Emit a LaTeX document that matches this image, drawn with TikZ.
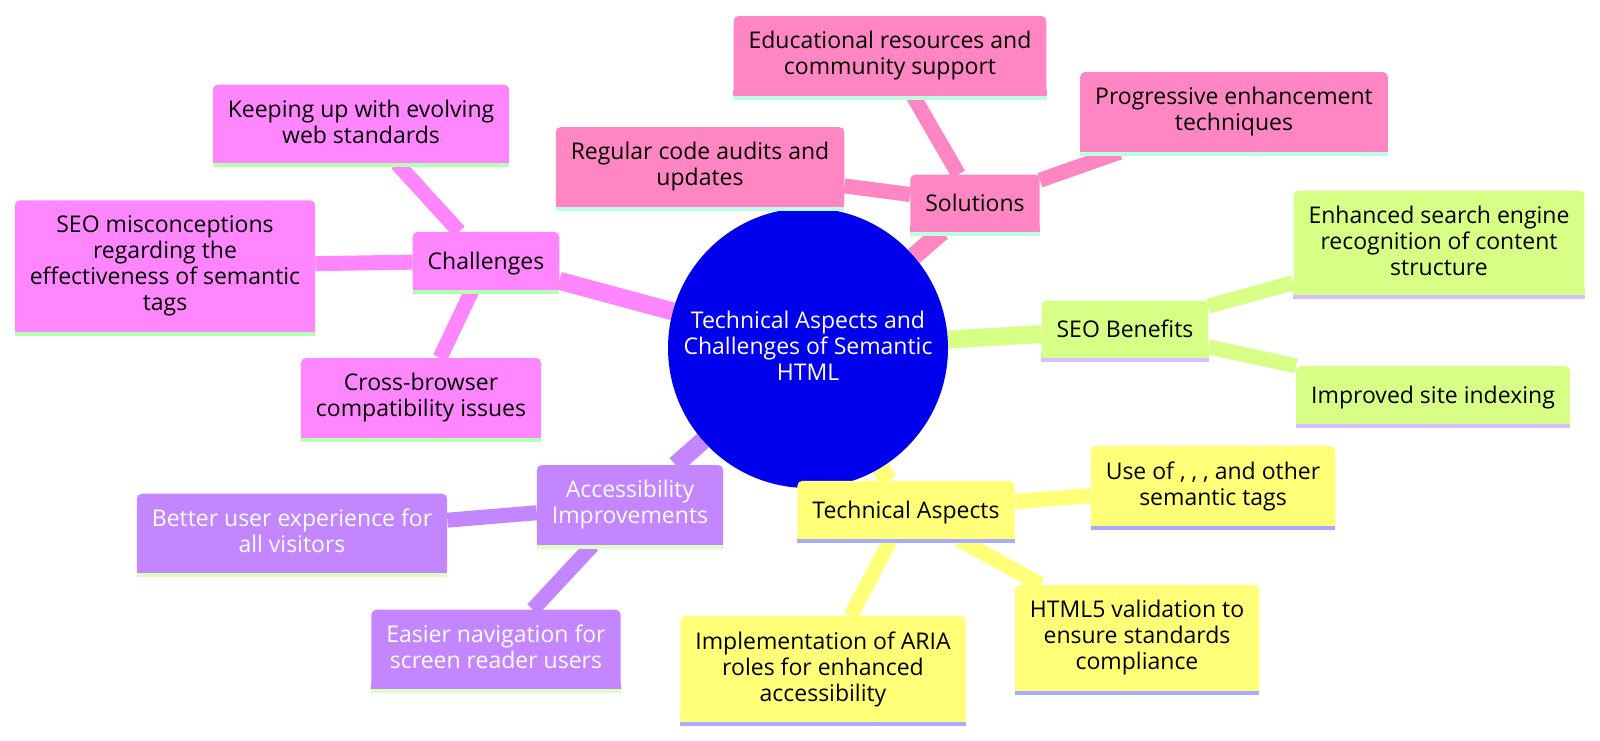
\documentclass[tikz,border=0pt]{standalone}
\usepackage{fontspec}
\setmainfont{Open Sans}
\usetikzlibrary{backgrounds}

\definecolor{rootblue}{HTML}{0000EC}
\definecolor{secyellow}{HTML}{FFFF78}
\definecolor{secgreen}{HTML}{D7FF86}
\definecolor{secpurple}{HTML}{C386FF}
\definecolor{secmagenta}{HTML}{FF86FF}
\definecolor{secpink}{HTML}{FF86C3}
\definecolor{lineyellow}{HTML}{AAAAFF}
\definecolor{linegreen}{HTML}{D5BFFF}
\definecolor{linepurple}{HTML}{DAFFBF}
\definecolor{linemagenta}{HTML}{B3FFB3}
\definecolor{linepink}{HTML}{BBFFE2}

\newcommand{\linestrut}{\rule[-4.1pt]{0pt}{26pt}}

\begin{document}
\begin{tikzpicture}[x=1pt, y=-1pt,
  every node/.style={font=\fontsize{23}{26}\selectfont, align=center,
    execute at begin node=\linestrut, execute at end node=\linestrut},
  idea/.style 2 args={rectangle, fill=#1, rounded corners=5pt, inner xsep=15pt, inner ysep=15.5pt,
    append after command={([yshift=3pt]\tikzlastnode.south west) edge[draw=#1, line width=6pt, sharp corners] ([yshift=3pt]\tikzlastnode.south east)
      ([yshift=-2pt]\tikzlastnode.south west) edge[draw=#2, line width=4pt, sharp corners] ([yshift=-2pt]\tikzlastnode.south east)}},
  pinkbox/.style={idea={secpink}{linepink}},
  magbox/.style={idea={secmagenta}{linemagenta}},
  greenbox/.style={idea={secgreen}{linegreen}},
  yellowbox/.style={idea={secyellow}{lineyellow}},
  purplebox/.style={idea={secpurple}{linepurple}, text=white}]

\useasboundingbox (0,0) rectangle (1600,740);

\node[circle, fill=rootblue, text=white, minimum size=280pt, inner sep=0pt] (root) at (808,348) {Technical Aspects and\\Challenges of Semantic\\HTML};

% Solutions
\node[pinkbox] (sol) at (975,203) {Solutions};
\node[pinkbox] (edu) at (890,56) {Educational resources and\\community support};
\node[pinkbox] (prog) at (1234,112) {Progressive enhancement\\techniques};
\node[pinkbox] (audit) at (700,167) {Regular code audits and\\updates};

% Challenges
\node[magbox] (chal) at (486,261) {Challenges};
\node[magbox] (keep) at (361,124) {Keeping up with evolving\\web standards};
\node[magbox] (seomis) at (165,266) {SEO misconceptions\\regarding the\\effectiveness of semantic\\tags};
\node[magbox] (cross) at (421,398) {Cross-browser\\compatibility issues};

% SEO Benefits
\node[greenbox] (seo) at (1125,329) {SEO Benefits};
\node[greenbox] (search) at (1439,243) {Enhanced search engine\\recognition of content\\structure};
\node[greenbox] (index) at (1433,395) {Improved site indexing};

% Technical Aspects
\node[yellowbox] (tech) at (906,510) {Technical Aspects};
\node[yellowbox] (tags) at (1213,486) {Use of , , , and other\\semantic tags};
\node[yellowbox] (valid) at (1137,638) {HTML5 validation to\\ensure standards\\compliance};
\node[yellowbox] (aria) at (823,669) {Implementation of ARIA\\roles for enhanced\\accessibility};

% Accessibility Improvements
\node[purplebox] (acc) at (630,505) {Accessibility\\Improvements};
\node[purplebox] (better) at (292,533) {Better user experience for\\all visitors};
\node[purplebox] (nav) at (496,649) {Easier navigation for\\screen reader users};

\begin{scope}[on background layer]
\foreach \b/\c in {sol/secpink, chal/secmagenta, seo/secgreen, tech/secyellow, acc/secpurple}
  {\draw[line width=18pt, draw=\c] (root) -- (\b);}
\foreach \a/\b/\c in {sol/edu/secpink, sol/prog/secpink, sol/audit/secpink,
  chal/keep/secmagenta, chal/seomis/secmagenta, chal/cross/secmagenta,
  seo/search/secgreen, seo/index/secgreen,
  tech/tags/secyellow, tech/valid/secyellow, tech/aria/secyellow,
  acc/better/secpurple, acc/nav/secpurple}
  {\draw[line width=15pt, draw=\c] (\a) -- (\b);}
\end{scope}

\end{tikzpicture}
\end{document}
